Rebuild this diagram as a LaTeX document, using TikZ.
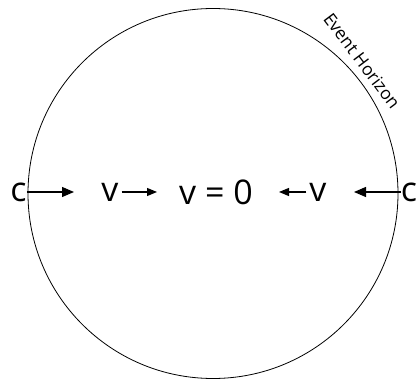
\documentclass[tikz,border=0pt]{standalone}
\usepackage{fontspec}
\setmainfont{Open Sans}
\usetikzlibrary{arrows.meta,positioning}
\tikzset{
  sym/.style={inner sep=0pt,font=\fontsize{34}{36}\selectfont},
  bigar/.style={-{Triangle[length=12pt,width=10pt]},line width=1.1pt},
  smar/.style={-{Triangle[length=10pt,width=8pt]},line width=1.1pt},
  lbl/.style={font=\fontsize{17.5}{19}\selectfont,inner sep=0pt},
}
\begin{document}
\begin{tikzpicture}[x=1pt,y=-1pt]
  \useasboundingbox (0,0) rectangle (416,382);
  % horizon
  \draw[line width=0.8pt] (213,193.5) circle[radius=185];
  \node[lbl,rotate=-53] (eh) at (362,61) {Event Horizon};
  % speeds
  \node[sym] (cL) at (18.5,192) {c};
  \node[sym] (vA) at (110,192) {v};
  \node[sym] (v0) at (216,192) {v = 0};
  \node[sym] (vB) at (318,192) {v};
  \node[sym] (cR) at (409,192) {c};
  \coordinate (tL) at (74,192);
  \coordinate (tA) at (157,192);
  \coordinate (tB) at (279,192);
  \coordinate (tR) at (354,192);
  \draw[bigar] (cL.east) -- (tL);
  \draw[smar] (vA.east) ++(3,0) -- (tA);
  \draw[smar] (vB.west) ++(-3,0) -- (tB);
  \draw[bigar] (cR.west) -- (tR);
\end{tikzpicture}
\end{document}
